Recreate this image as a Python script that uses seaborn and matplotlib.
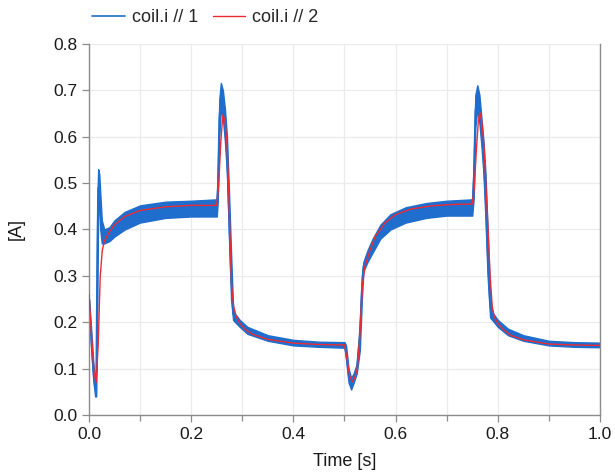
import matplotlib
matplotlib.use("Agg")
import matplotlib.pyplot as plt
import seaborn as sns
import numpy as np
import pandas as pd
from matplotlib.ticker import MultipleLocator

# coil.i // 2 (smooth, red)
red_t = [0.000, 0.005, 0.010, 0.014, 0.018, 0.022, 0.026, 0.030, 0.040, 0.050,
         0.070, 0.100, 0.150, 0.200, 0.250, 0.254, 0.258, 0.262, 0.266, 0.270,
         0.273, 0.276, 0.279, 0.283, 0.288, 0.295, 0.305, 0.320, 0.350, 0.400,
         0.450, 0.500, 0.505, 0.510, 0.515, 0.520, 0.525, 0.530, 0.535, 0.540,
         0.550, 0.560, 0.580, 0.600, 0.630, 0.670, 0.710, 0.750, 0.754, 0.758,
         0.762, 0.765, 0.769, 0.773, 0.777, 0.781, 0.785, 0.789, 0.793, 0.800,
         0.810, 0.825, 0.850, 0.900, 0.950, 1.000]
red_i = [0.260, 0.170, 0.090, 0.070, 0.150, 0.300, 0.355, 0.375, 0.395, 0.410,
         0.428, 0.441, 0.449, 0.452, 0.452, 0.500, 0.590, 0.648, 0.635, 0.585,
         0.500, 0.380, 0.280, 0.235, 0.212, 0.198, 0.185, 0.174, 0.163, 0.155,
         0.152, 0.151, 0.120, 0.085, 0.072, 0.080, 0.100, 0.170, 0.280, 0.320,
         0.355, 0.385, 0.415, 0.432, 0.444, 0.451, 0.454, 0.455, 0.490, 0.570,
         0.635, 0.652, 0.630, 0.580, 0.490, 0.400, 0.300, 0.235, 0.212, 0.198,
         0.185, 0.172, 0.162, 0.153, 0.151, 0.150]

# coil.i // 1 (noisy, blue): lower and upper edge of the noise band
blue_t = [0.000, 0.004, 0.008, 0.012, 0.014, 0.016, 0.018, 0.020, 0.022, 0.025,
          0.030, 0.040, 0.050, 0.070, 0.100, 0.150, 0.200, 0.250, 0.252, 0.255,
          0.258, 0.262, 0.266, 0.270, 0.274, 0.278, 0.282, 0.286, 0.295, 0.310,
          0.350, 0.400, 0.450, 0.500, 0.503, 0.508, 0.513, 0.518, 0.524, 0.530,
          0.534, 0.537, 0.545, 0.555, 0.570, 0.590, 0.620, 0.660, 0.700, 0.750,
          0.753, 0.756, 0.760, 0.764, 0.768, 0.772, 0.776, 0.780, 0.785, 0.789,
          0.800, 0.820, 0.850, 0.900, 0.950, 1.000]
blue_lo = [0.220, 0.150, 0.080, 0.040, 0.040, 0.200, 0.450, 0.460, 0.400, 0.370,
           0.370, 0.375, 0.385, 0.400, 0.415, 0.425, 0.428, 0.428, 0.460, 0.600,
           0.660, 0.640, 0.590, 0.520, 0.380, 0.250, 0.205, 0.200, 0.190, 0.175,
           0.160, 0.150, 0.147, 0.145, 0.120, 0.070, 0.055, 0.070, 0.090, 0.140,
           0.250, 0.310, 0.330, 0.350, 0.380, 0.400, 0.415, 0.425, 0.430, 0.430,
           0.470, 0.620, 0.660, 0.630, 0.580, 0.520, 0.420, 0.300, 0.210, 0.205,
           0.190, 0.172, 0.160, 0.150, 0.147, 0.146]
blue_hi = [0.250, 0.190, 0.120, 0.070, 0.100, 0.450, 0.530, 0.520, 0.480, 0.420,
           0.400, 0.405, 0.420, 0.438, 0.452, 0.460, 0.462, 0.465, 0.520, 0.680,
           0.716, 0.700, 0.660, 0.600, 0.480, 0.350, 0.230, 0.218, 0.205, 0.190,
           0.172, 0.162, 0.158, 0.157, 0.150, 0.100, 0.080, 0.090, 0.110, 0.200,
           0.300, 0.330, 0.355, 0.380, 0.410, 0.433, 0.448, 0.457, 0.462, 0.465,
           0.550, 0.690, 0.711, 0.690, 0.640, 0.590, 0.520, 0.400, 0.260, 0.222,
           0.205, 0.186, 0.172, 0.160, 0.157, 0.156]

BLUE = "#1f6dcc"
RED = "#ee2b33"

sns.set_theme(style="white")
plt.rcParams["font.family"] = ["Liberation Sans", "DejaVu Sans"]

red_df = pd.DataFrame({"t": red_t, "i": red_i})
blue_df = pd.DataFrame({"t": blue_t,
                        "i": (np.array(blue_lo) + np.array(blue_hi)) / 2})

fig = plt.figure(figsize=(6.15, 4.72), dpi=100)
ax = fig.add_axes([0.1447, 0.1208, 0.8309, 0.786])

ax.fill_between(blue_t, blue_lo, blue_hi, color=BLUE, edgecolor=BLUE,
                linewidth=1.0, zorder=2)
sns.lineplot(data=blue_df, x="t", y="i", color=BLUE, linewidth=1.2,
             label="coil.i // 1", ax=ax, zorder=2)
sns.lineplot(data=red_df, x="t", y="i", color=RED, linewidth=1.0,
             label="coil.i // 2", ax=ax, zorder=3)

ax.set_xlim(0, 1.0)
ax.set_ylim(0, 0.8)
ax.xaxis.set_major_locator(MultipleLocator(0.2))
ax.xaxis.set_minor_locator(MultipleLocator(0.1))
ax.yaxis.set_major_locator(MultipleLocator(0.1))
ax.xaxis.set_major_formatter(lambda v, p: f"{v:.1f}")
ax.yaxis.set_major_formatter(lambda v, p: f"{v:.1f}")

ax.grid(True, which="both", color="#ebebeb", linewidth=0.9)
ax.set_axisbelow(True)
for side in ["left", "bottom", "right"]:
    ax.spines[side].set_color("#8c8c8c")
    ax.spines[side].set_linewidth(1.0)
ax.spines["top"].set_visible(False)
ax.tick_params(axis="both", which="major", direction="out", length=5,
               width=0.9, color="#8c8c8c", labelsize=12.5, labelcolor="#1a1a1a",
               left=True, bottom=True)
ax.tick_params(axis="x", which="minor", direction="out", length=4,
               width=0.9, color="#8c8c8c", bottom=True)

ax.set_xlabel("Time [s]", fontsize=13, color="#1a1a1a", labelpad=8)
ax.set_ylabel("[A]", fontsize=13, color="#1a1a1a", labelpad=20)

handles, labels = ax.get_legend_handles_labels()
ax.get_legend().remove()
fig.legend(handles, labels, loc="center left", bbox_to_anchor=(0.138, 0.962),
           ncol=2, frameon=False, fontsize=13, handlelength=1.8,
           columnspacing=0.8, handletextpad=0.4, borderaxespad=0)

fig.savefig("out.png", dpi=100)
